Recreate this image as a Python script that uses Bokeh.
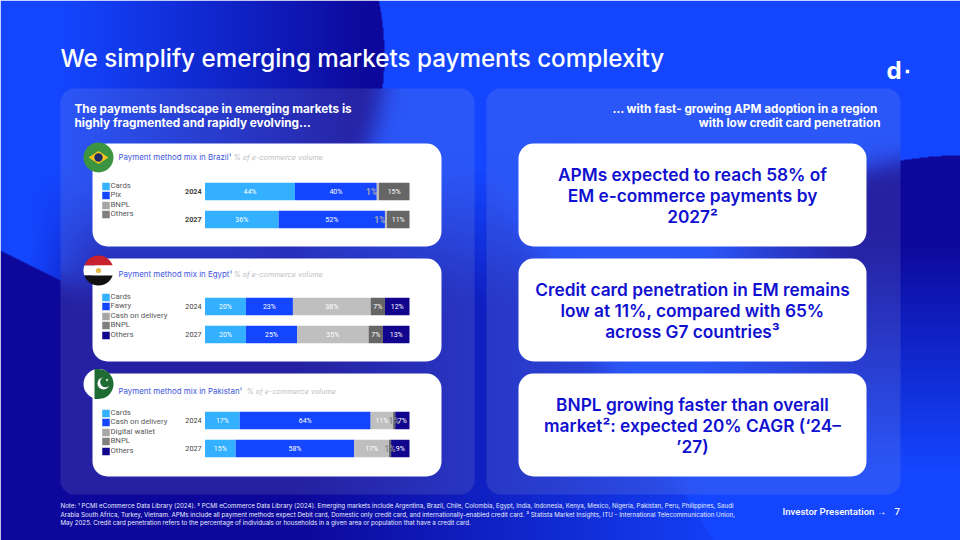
import numpy as np
from bokeh.plotting import figure
from bokeh.models import Range1d
from bokeh.core.properties import value
from bokeh.embed import file_html
from bokeh.resources import INLINE

# ---- data ----
title_text = "We simplify emerging markets payments complexity"
years = ["2024", "2027"]

brazil_series = ["Cards", "Pix", "BNPL", "Others"]
brazil_2024 = [44, 40, 1, 15]
brazil_2027 = [36, 52, 1, 11]

egypt_series = ["Cards", "Fawry", "Cash on delivery", "BNPL", "Others"]
egypt_2024 = [20, 23, 38, 7, 12]
egypt_2027 = [20, 25, 35, 7, 13]

pakistan_series = ["Cards", "Cash on delivery", "Digital wallet", "BNPL", "Others"]
pakistan_2024 = [17, 64, 11, 1, 7]
pakistan_2027 = [15, 58, 17, 1, 9]

brazil_colors = ["#33B0FF", "#1446FF", "#BFBFBF", "#666666"]
five_colors = ["#33B0FF", "#1446FF", "#BFBFBF", "#666666", "#10058C"]
brazil_swatches = ["#33B0FF", "#1446FF", "#A6A6A6", "#7F7F7F"]
five_swatches = ["#33B0FF", "#1446FF", "#A6A6A6", "#7F7F7F", "#10058C"]

left_head = ["The payments landscape in emerging markets is",
             "highly fragmented and rapidly evolving…"]
right_head = ["…  with fast- growing APM adoption in a region",
              "with low credit card penetration"]
card_one = ["APMs expected to reach 58% of", "EM e-commerce payments by", "2027²"]
card_two = ["Credit card penetration in EM remains", "low at 11%, compared with 65%", "across G7 countries³"]
card_three = ["BNPL growing faster than overall", "market²: expected 20% CAGR (‘24–", "’27)"]
notes = [
    "Note: ¹ PCMI eCommerce Data Library (2024). ² PCMI eCommerce Data Library (2024). Emerging markets include Argentina, Brazil, Chile, Colombia, Egypt, India, Indonesia, Kenya, Mexico, Nigeria, Pakistan, Peru, Philippines, Saudi",
    "Arabia South Africa, Turkey, Vietnam. APMs include all payment methods expect Debit card, Domestic only credit card, and internationally-enabled credit card. ³ Statista Market Insights, ITU - International Telecommunication Union,",
    "May 2025. Credit card penetration refers to the percentage of individuals or households in a given area or population that have a credit card.",
]

# ---- page frame: coordinates follow the 960x540 slide ----
X0, X1, Y0, Y1 = 0, 960, 0, 540
BAR_L, BAR_R = 204.5, 409.0
k = (BAR_R - BAR_L) / 100.0

p = figure(width=X1 - X0, height=Y1 - Y0, output_backend="svg", toolbar_location=None,
           x_range=Range1d(X0, X1), y_range=Range1d(Y1, Y0),
           x_axis_type=None, y_axis_type=None, min_border=0, outline_line_color=None)
p.grid.visible = False
p.extra_x_ranges = {"share": Range1d((X0 - BAR_L) / k, (X1 - BAR_L) / k)}

# ---- background raster ----
yy, xx = np.mgrid[0:540, 0:960].astype(float) + 0.5
bright = np.array([20, 70, 255.0])
navy = np.array([13, 8, 155.0])

def ramp(a):
    return np.clip(a, 0, 1)

top_blob = ((xx - 120) ** 2 + (yy - 55) ** 2 < 264 ** 2) * ramp((xx - 60) / 310)
low_blob = (yy > 250 + 0.5 * xx) * 1.0
low_fade = ramp((yy - 170) / 130) * ramp(1.0 - (xx - 300) / 460) * ramp((xx - 30) / 70)
low_edge = (xx < 676 + (yy - 480) * 0.62)
low = np.maximum(low_blob * ramp(1.0 - (xx - 300) / 460), low_fade) * low_edge
right_blob = ((xx - 960) ** 2 + (yy - 500) ** 2 < 345 ** 2) * ramp(1 - (yy - 240) / 230) * ramp((xx - 700) / 150)
dark = np.maximum(np.maximum(top_blob, low), right_blob)
bg = bright[None, None, :] * (1 - dark[..., None]) + navy[None, None, :] * dark[..., None]

def box_blur(a, r):
    out = a
    for axis in (0, 1):
        pad = [(r + 1, r) if i == axis else (0, 0) for i in range(3)]
        c = np.cumsum(np.pad(out, pad, mode="edge"), axis=axis)
        n = c.shape[axis]
        hi = np.take(c, range(2 * r + 1, n), axis=axis)
        lo = np.take(c, range(0, n - 2 * r - 1), axis=axis)
        out = (hi - lo) / (2 * r + 1)
    return out

soft = box_blur(box_blur(bg, 12), 12)

def rounded(l, r, t, b, rad):
    dx = np.maximum(np.maximum(l + rad - xx, xx - (r - rad)), 0)
    dy = np.maximum(np.maximum(t + rad - yy, yy - (b - rad)), 0)
    return (dx ** 2 + dy ** 2) <= rad ** 2

glass = np.array([190, 190, 205.0])
for l, r in ((60, 474), (486, 900)):
    m = rounded(l, r, 88, 494, 14)
    bg[m] = soft[m] * 0.86 + glass * 0.14

rgba = np.dstack([bg, np.full(bg.shape[:2], 255.0)]).astype(np.uint8)[Y0:Y1, X0:X1]
img = np.frombuffer(rgba.tobytes(), dtype=np.uint32).reshape(rgba.shape[:2])
p.image_rgba(image=[img], x=X0, y=Y0, dw=X1 - X0, dh=Y1 - Y0)


def txt(x, y, s, size, color, font="Inter", style="normal", align="left"):
    p.text(x=[x], y=[y], text=[s], text_font=value(font), text_font_size=f"{size}px",
           text_font_style=style, text_color=color, text_align=align, text_baseline="middle")


def card(l, r, t, b):
    p.quad(left=[l], right=[r], top=[t], bottom=[b], fill_color="white", line_color=None, border_radius=15)


# ---- headings ----
txt(60, 58, title_text, 24.2, "white", font="Inter Medium")
txt(74, 108.5, left_head[0], 11.75, "white", style="bold")
txt(74, 122.5, left_head[1], 11.75, "white", style="bold")
txt(880, 108.5, right_head[0], 11.75, "white", style="bold", align="right")
txt(880, 122.5, right_head[1], 11.75, "white", style="bold", align="right")
txt(886, 69.5, "d", 24, "white", style="bold")
p.scatter(x=[907], y=[71], size=3.5, marker="square", fill_color="white", line_color=None)

# ---- chart cards ----
chart_rows = [
    dict(top=143, title="Payment method mix in Brazil¹", note_x=233, title_y=156.5,
         series=brazil_series, rows=[brazil_2024, brazil_2027], colors=brazil_colors,
         swatches=brazil_swatches, bar_y=[191, 219], leg_y=[186, 195, 205, 214], year_style="bold",
         small_shift=-3.0, small_color="#A8A8A8"),
    dict(top=258, title="Payment method mix in Egypt¹", note_x=233, title_y=273.5,
         series=egypt_series, rows=[egypt_2024, egypt_2027], colors=five_colors,
         swatches=five_swatches, bar_y=[306, 334], leg_y=[297, 306, 316, 325, 335], year_style="normal",
         small_shift=0, small_color="#8C8C8C"),
    dict(top=373, title="Payment method mix in Pakistan¹", note_x=246, title_y=390.5,
         series=pakistan_series, rows=[pakistan_2024, pakistan_2027], colors=five_colors,
         swatches=five_swatches, bar_y=[420, 448], leg_y=[413, 422, 432, 441, 451], year_style="normal",
         small_shift=0, small_color="#8C8C8C"),
]

for c in chart_rows:
    card(92, 441, c["top"], c["top"] + 103)
    txt(118, c["title_y"], c["title"], 7.9, "#3D55E0")
    txt(c["note_x"], c["title_y"], "% of e-commerce volume", 7.3, "#BDBDBD", style="italic")
    for name, col, ly in zip(c["series"], c["swatches"], c["leg_y"]):
        p.rect(x=[105.5], y=[ly], width=7.5, height=7.5, fill_color=col, line_color=None)
        txt(110, ly - 1, name, 7.8, "#595959", font="Roboto")
    for year, row, by in zip(years, c["rows"], c["bar_y"]):
        txt(201, by, year, 7.2, "#404040", font="Roboto", style=c["year_style"], align="right")
        vals = np.array(row, dtype=float)
        right = np.cumsum(vals)
        left = right - vals
        for a, b, col in zip(left, right, c["colors"]):
            p.hbar(y=[by], left=[a], right=[b], height=17.5, fill_color=col, line_color=None,
                   x_range_name="share")
        for a, b, v in zip(left, right, vals):
            small = v == 1
            p.text(x=[(a + b) / 2 + (c["small_shift"] if small else 0)], y=[by], text=[f"{int(v)}%"],
                   x_range_name="share", text_font=value("Roboto"),
                   text_font_size="8.5px" if small else "7px",
                   text_color=c["small_color"] if small else "white",
                   text_align="center", text_baseline="middle",
                   text_font_style="bold" if small else "normal")

# ---- flags ----
FX, FR = 98, 15
def segment(cy, y_a, y_b, color):
    ys = np.linspace(y_a, y_b, 40)
    half = np.sqrt(np.clip(FR ** 2 - (ys - cy) ** 2, 0, None))
    p.patch(x=np.r_[FX - half, (FX + half)[::-1]], y=np.r_[ys, ys[::-1]], fill_color=color, line_color=None)

# Brazil
p.circle(x=[FX], y=[157], radius=FR, fill_color="#3A9440", line_color=None)
p.patch(x=[FX - 10, FX, FX + 10, FX], y=[157, 150.5, 157, 163.5], fill_color="#F5C518", line_color=None)
p.circle(x=[FX], y=[157], radius=4.2, fill_color="#1F2A6B", line_color=None)
# Egypt
segment(270, 255, 265, "#C8202F")
segment(270, 265, 275, "white")
segment(270, 275, 285, "#111111")
p.circle(x=[FX], y=[270], radius=2.6, fill_color="#E5B84B", line_color=None)
# Pakistan
p.circle(x=[FX], y=[383.5], radius=FR, fill_color="white", line_color=None)
ys = np.linspace(368.5, 398.5, 40)
half = np.sqrt(np.clip(FR ** 2 - (ys - 383.5) ** 2, 0, None))
p.patch(x=np.r_[np.minimum(np.full(40, 94.0), FX + half), (FX + half)[::-1]], y=np.r_[ys, ys[::-1]],
        fill_color="#1F6B34", line_color=None)
p.circle(x=[103], y=[383], radius=6, fill_color="white", line_color=None)
p.circle(x=[105], y=[381.5], radius=5.3, fill_color="#1F6B34", line_color=None)
p.scatter(x=[106.5], y=[379.5], size=3.5, marker="star", fill_color="white", line_color=None)

# ---- message cards ----
for top, lines in ((143, card_one), (258, card_two), (373, card_three)):
    card(518, 866, top, top + 103)
    for i, line in enumerate(lines):
        txt(692, top + 31 + i * 21, line, 17.3, "#1010D0", font="Inter SemiBold", align="center")

# ---- footer ----
for ny, line in zip((505, 513.5, 522), notes):
    txt(60, ny, line, 6.2, "#E8ECFF")
txt(782, 510.5, "Investor Presentation →", 9.6, "white", font="Roboto Medium")
txt(894, 510.5, "7", 9.6, "white", font="Roboto Medium")

open("out.html", "w").write(file_html(p, INLINE))
